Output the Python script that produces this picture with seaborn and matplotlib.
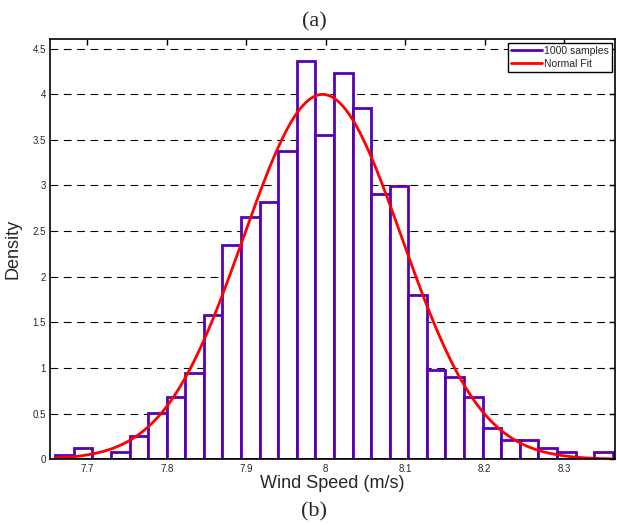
import numpy as np
import pandas as pd
import seaborn as sns
import matplotlib.pyplot as plt

# histogram of 1000 wind speed samples, 30 bins
bin_lo = 7.6596
bin_hi = 8.3610
counts = [1, 3, 0, 2, 6, 12, 16, 22, 37, 55,
          62, 66, 79, 102, 83, 99, 90, 68, 70, 42,
          23, 21, 16, 8, 5, 5, 3, 2, 0, 2]

# normal fit parameters
mu = 7.996
sigma = 0.0998

xticks = [7.7, 7.8, 7.9, 8.0, 8.1, 8.2, 8.3]
xticklabels = ['7.7', '7.8', '7.9', '8', '8.1', '8.2', '8.3']
yticks = [0, 0.5, 1, 1.5, 2, 2.5, 3, 3.5, 4, 4.5]
yticklabels = ['0', '0.5', '1', '1.5', '2', '2.5', '3', '3.5', '4', '4.5']

purple = '#5a00b4'

edges = np.linspace(bin_lo, bin_hi, len(counts) + 1)
centers = (edges[:-1] + edges[1:]) / 2
df = pd.DataFrame({'speed': centers, 'n': counts})

sns.set_style('white')
plt.rcParams['font.family'] = ['Liberation Sans', 'DejaVu Sans']

fig = plt.figure(figsize=(6.17, 5.25), dpi=100)
ax = fig.add_axes([0.081, 0.125, 0.9159, 0.80])

sns.histplot(data=df, x='speed', weights='n', bins=len(counts),
             binrange=(bin_lo, bin_hi), stat='density',
             color='white', edgecolor=purple, linewidth=2, alpha=1, ax=ax)

xs = np.linspace(bin_lo, bin_hi, 400)
pdf = np.exp(-0.5 * ((xs - mu) / sigma) ** 2) / (sigma * np.sqrt(2 * np.pi))
sns.lineplot(x=xs, y=pdf, color='red', linewidth=2, ax=ax)

ax.set_xlim(7.653, 8.364)
ax.set_ylim(0, 4.6)
ax.set_xticks(xticks)
ax.set_xticklabels(xticklabels)
ax.set_yticks(yticks)
ax.set_yticklabels(yticklabels)
ax.tick_params(direction='in', top=True, right=True, length=4, width=1,
               labelsize=7, color='black', pad=3)
ax.yaxis.grid(True, linestyle=(0, (7, 5)), color='black', linewidth=0.8)
ax.set_axisbelow(True)
for s in ax.spines.values():
    s.set_color('black')
    s.set_linewidth(1.2)

ax.set_xlabel('Wind Speed (m/s)', fontsize=13, labelpad=1)
ax.set_ylabel('Density', fontsize=13, labelpad=8)

handles = [plt.Line2D([], [], color=purple, linewidth=2),
           plt.Line2D([], [], color='red', linewidth=2)]
leg = ax.legend(handles, ['1000 samples', 'Normal Fit'], loc='upper right',
                fontsize=7.5, frameon=True, fancybox=False, framealpha=1,
                edgecolor='black', borderpad=0.3, handlelength=3,
                handletextpad=0.2, labelspacing=0.3, borderaxespad=0.3)
leg.get_frame().set_linewidth(1)

fig.text(0.51, 0.959, '(a)', ha='center', va='center', fontsize=16,
         family='Liberation Serif')
fig.text(0.509, 0.025, '(b)', ha='center', va='center', fontsize=16,
         family='Liberation Serif')

fig.savefig('out.png', dpi=100)
